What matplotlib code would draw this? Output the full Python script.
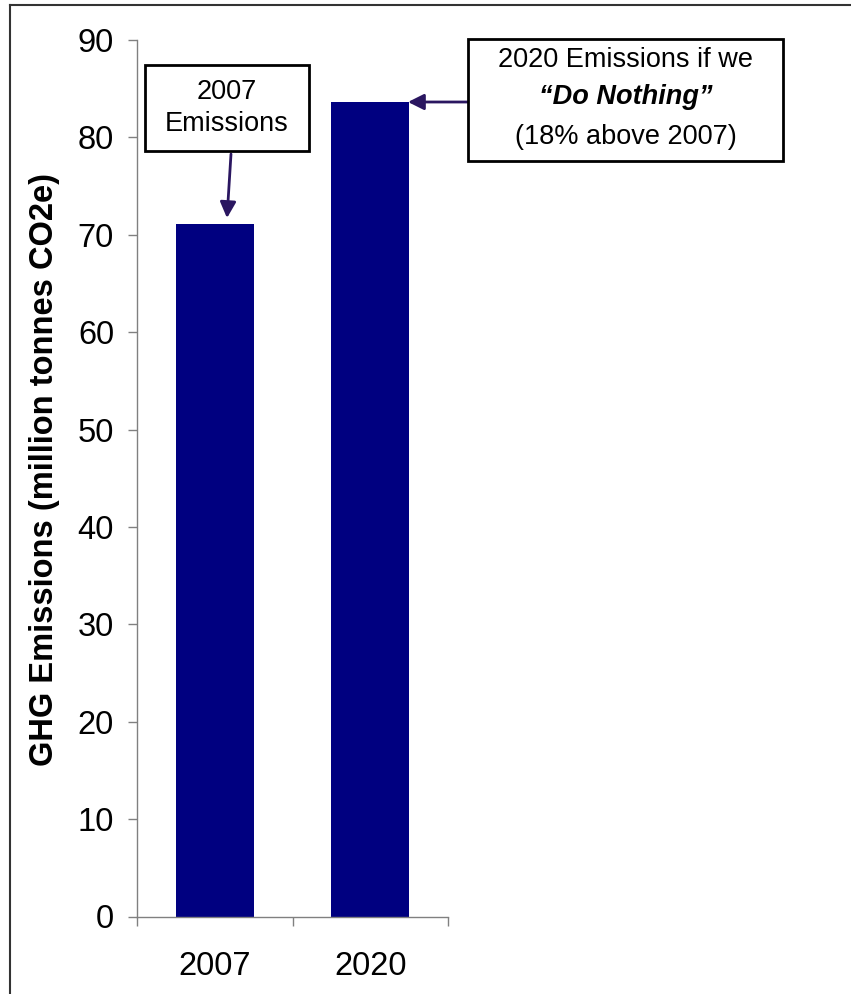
import matplotlib
matplotlib.use("Agg")
import matplotlib.pyplot as plt
from matplotlib.lines import Line2D

years = ["2007", "2020"]
emissions = [71.1, 83.6]
yticks = [0, 10, 20, 30, 40, 50, 60, 70, 80, 90]

bar_color = "#000080"
arrow_color = "#2a1660"
axis_color = "#808080"

plt.rcParams['font.family'] = ['Liberation Sans', 'DejaVu Sans']

W, H = 851, 994
fig = plt.figure(figsize=(W / 100, H / 100), dpi=100)
ax = fig.add_axes([137 / W, 1 - 916.5 / H, (448 - 137) / W, (916.5 - 40) / H])

x = range(len(years))
ax.bar(x, emissions, width=0.5, color=bar_color, zorder=2)

ax.set_xlim(-0.5, 1.5)
ax.set_ylim(0, 90)
ax.set_yticks(yticks)
ax.set_xticks(list(x))
ax.set_xticklabels(years, fontsize=23.5)
ax.set_xticks([-0.5, 0.5, 1.5], minor=True)
ax.tick_params(axis='x', which='major', length=0, pad=25)
ax.tick_params(axis='x', which='minor', length=6.5, width=1, color=axis_color, direction='out')
ax.tick_params(axis='y', labelsize=23.5, length=6.5, width=1, color=axis_color, pad=10)

for side in ['top', 'right']:
    ax.spines[side].set_visible(False)
for side in ['left', 'bottom']:
    ax.spines[side].set_color(axis_color)
    ax.spines[side].set_linewidth(1)

fig.text(45 / W, 1 - 470 / H, "GHG Emissions (million tonnes CO2e)", rotation=90,
         ha='center', va='center', fontsize=23.5, fontweight='bold')

def px(xp, yp):
    return xp / W, 1 - yp / H

# box 1: 2007 emissions
fig.patches.append(plt.Rectangle(px(145, 151), (309 - 145) / W, (151 - 65) / H,
                                 transform=fig.transFigure, fc='white', ec='black', lw=2, zorder=5))
fig.text(*px(227, 92), "2007", ha='center', va='center', fontsize=19.5, zorder=6)
fig.text(*px(227, 124), "Emissions", ha='center', va='center', fontsize=19.5, zorder=6)
ax.annotate("", xy=(227 / W, 1 - 218 / H), xycoords='figure fraction',
            xytext=(231 / W, 1 - 154 / H), textcoords='figure fraction',
            arrowprops=dict(arrowstyle='-|>', color=arrow_color, lw=2,
                            mutation_scale=24, shrinkA=0, shrinkB=0),
            annotation_clip=False)

# box 2: 2020 "do nothing"
ax.annotate("", xy=(408 / W, 1 - 102 / H), xycoords='figure fraction',
            xytext=(468 / W, 1 - 102 / H), textcoords='figure fraction',
            arrowprops=dict(arrowstyle='-|>', color=arrow_color, lw=2,
                            mutation_scale=24, shrinkA=0, shrinkB=0),
            annotation_clip=False)
fig.patches.append(plt.Rectangle(px(468, 161), (783 - 468) / W, (161 - 39) / H,
                                 transform=fig.transFigure, fc='white', ec='black', lw=2, zorder=5))
cx = (468 + 783) / 2
fig.text(*px(cx, 60), "2020 Emissions if we", ha='center', va='center', fontsize=19.5, zorder=6)
fig.text(*px(cx, 97), "\u201cDo Nothing\u201d", ha='center', va='center', fontsize=19.5,
         fontweight='bold', fontstyle='italic', zorder=6)
fig.text(*px(cx, 137), "(18% above 2007)", ha='center', va='center', fontsize=19.5, zorder=6)

# outer frame
fig.add_artist(Line2D([10 / W, 1], [1 - 5 / H, 1 - 5 / H], transform=fig.transFigure, color='#333333', lw=1.5))
fig.add_artist(Line2D([10 / W, 10 / W], [0, 1 - 5 / H], transform=fig.transFigure, color='#333333', lw=1.5))

fig.savefig("out.png", dpi=100)
